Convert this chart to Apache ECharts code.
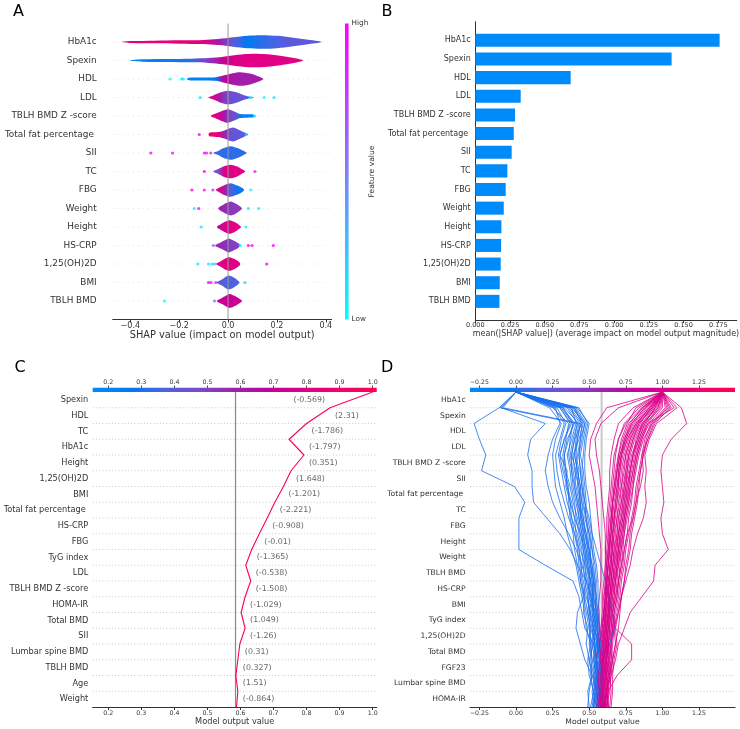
<!DOCTYPE html>
<html><head><meta charset="utf-8">
<script src="https://cdn.jsdelivr.net/npm/echarts@6/dist/echarts.min.js"></script>
<style>html,body{margin:0;padding:0;background:#fff}#c{width:740px;height:729px}</style>
</head><body><div id="c"></div>
<script>
// ---------------- Panel A : SHAP violin summary ----------------
const aFeatures = ['HbA1c','Spexin','HDL','LDL','TBLH BMD Z -score','Total fat percentage ','SII','TC','FBG','Weight','Height','HS-CRP','1,25(OH)2D','BMI','TBLH BMD'];
const aTicks = [-0.4,-0.2,0,0.2,0.4];
// knots: [SHAP value, relative density, feature-value colour position]
const vHbA1c = [[-0.434,0,0.8],[-0.40,0.14,0.8],[-0.30,0.2,0.8],[-0.20,0.24,0.8],[-0.10,0.3,0.76],[-0.04,0.45,0.55],[0.02,0.7,0.3],[0.08,0.93,0.12],[0.14,1,0.2],[0.20,0.9,0.25],[0.26,0.65,0.3],[0.32,0.35,0.3],[0.382,0,0.3]];
const vSpexin = [[-0.403,0,0.05],[-0.35,0.17,0.05],[-0.25,0.21,0.08],[-0.15,0.27,0.2],[-0.08,0.35,0.42],[-0.02,0.55,0.65],[0.04,0.85,0.75],[0.10,1,0.76],[0.16,0.92,0.76],[0.22,0.66,0.76],[0.27,0.36,0.76],[0.307,0,0.76]];
const vHDL = [[-0.169,0,0.05],[-0.16,0.17,0.05],[-0.10,0.21,0.08],[-0.05,0.27,0.12],[-0.02,0.5,0.62],[0.02,0.85,0.55],[0.05,1,0.52],[0.09,0.8,0.52],[0.12,0.45,0.52],[0.144,0,0.52]];
const vLDL = [[-0.08,0,0.75],[-0.06,0.3,0.75],[-0.03,0.75,0.5],[0,1,0.35],[0.03,0.8,0.33],[0.06,0.4,0.32],[0.085,0.14,0.25],[0.10,0.06,0.2],[0.106,0,0.2]];
const vTBLHZ = [[-0.071,0,0.78],[-0.05,0.35,0.76],[-0.02,0.8,0.58],[0,1,0.42],[0.03,0.6,0.32],[0.05,0.3,0.15],[0.08,0.24,0.06],[0.105,0.2,0.04],[0.112,0,0.04]];
const vFat = [[-0.08,0,0.85],[-0.075,0.28,0.85],[-0.04,0.36,0.78],[-0.015,0.6,0.5],[0.01,0.95,0.33],[0.025,1,0.32],[0.05,0.6,0.3],[0.07,0.25,0.25],[0.082,0,0.2]];
const vSII = [[-0.06,0,0.22],[-0.04,0.3,0.22],[-0.02,0.7,0.2],[0.01,1,0.2],[0.035,0.75,0.2],[0.06,0.35,0.2],[0.076,0,0.2]];
const vTC = [[-0.06,0,0.3],[-0.04,0.35,0.38],[-0.015,0.8,0.72],[0.01,1,0.76],[0.035,0.75,0.76],[0.055,0.35,0.76],[0.07,0,0.76]];
const vFBG = [[-0.05,0,0.78],[-0.035,0.35,0.76],[-0.01,0.8,0.5],[0.01,1,0.28],[0.035,0.7,0.16],[0.055,0.35,0.12],[0.066,0,0.12]];
const vWeight = [[-0.04,0,0.5],[-0.02,0.55,0.48],[0,0.9,0.45],[0.015,1,0.43],[0.035,0.65,0.42],[0.05,0.3,0.42],[0.057,0,0.42]];
const vHeight = [[-0.046,0,0.6],[-0.03,0.4,0.66],[-0.01,0.8,0.74],[0.005,1,0.76],[0.025,0.75,0.76],[0.045,0.3,0.76],[0.053,0,0.76]];
const vCRP = [[-0.053,0,0.5],[-0.03,0.45,0.48],[-0.005,0.9,0.44],[0.005,1,0.42],[0.03,0.6,0.4],[0.045,0.25,0.4],[0.05,0,0.4]];
const v125 = [[-0.049,0,0.72],[-0.03,0.4,0.75],[-0.01,0.85,0.76],[0.005,1,0.76],[0.025,0.75,0.76],[0.045,0.3,0.76],[0.05,0,0.76]];
const vBMI = [[-0.046,0,0.3],[-0.025,0.45,0.28],[0,1,0.26],[0.02,0.8,0.26],[0.04,0.3,0.26],[0.047,0,0.26]];
const vTBLH = [[-0.046,0,0.62],[-0.025,0.45,0.66],[0,0.95,0.66],[0.01,1,0.66],[0.03,0.7,0.66],[0.05,0.25,0.66],[0.057,0,0.66]];
const aViolins = [vHbA1c,vSpexin,vHDL,vLDL,vTBLHZ,vFat,vSII,vTC,vFBG,vWeight,vHeight,vCRP,v125,vBMI,vTBLH];
// outlier dots: [SHAP value, row (0 = bottom), feature value 0..1]
const aDots = [[-0.237,12,0],[-0.19,12,0.05],[-0.183,12,0.05],
 [-0.114,11,0.1],[0.093,11,0],[0.148,11,0],[0.188,11,0.05],[0.108,10,0],
 [-0.118,9,1],[0.075,9,0.1],
 [-0.316,8,1],[-0.227,8,1],[-0.097,8,0.95],[-0.088,8,0.9],[-0.071,8,0.85],
 [-0.097,7,1],[0.11,7,0.85],
 [-0.148,6,1],[-0.097,6,0.9],[-0.062,6,0.8],[0.093,6,0],
 [-0.138,5,0.05],[-0.12,5,0.95],[0.083,5,0.1],[0.125,5,0],
 [-0.11,4,0.1],[0.073,4,0.05],
 [-0.06,3,0.7],[0.05,3,0],[0.083,3,0.95],[0.098,3,0.95],[0.185,3,1],
 [-0.124,2,0.05],[-0.08,2,0.05],[-0.066,2,0.1],[-0.055,2,0.2],[0.158,2,0.95],
 [-0.08,1,1],[-0.07,1,0.95],[-0.05,1,0.9],[0.069,1,0.2],
 [-0.26,0,0],[-0.055,0,0.6]];

// ---------------- Panel B : mean |SHAP| ----------------
const bFeatures = aFeatures;
const bValues = [0.176,0.1414,0.0687,0.0327,0.0286,0.0277,0.0262,0.0231,0.0219,0.0205,0.0188,0.0186,0.0183,0.0176,0.0174];
const bTicks = [0,0.025,0.05,0.075,0.1,0.125,0.15,0.175];

// ---------------- Panel C : single decision path ----------------
const cFeatures = ['Spexin','HDL','TC','HbA1c','Height','1,25(OH)2D','BMI','Total fat percentage ','HS-CRP','FBG','TyG index','LDL','TBLH BMD Z -score','HOMA-IR','Total BMD','SII','Lumbar spine BMD','TBLH BMD','Age','Weight'];
const cValues = ['(-0.569)','(2.31)','(-1.786)','(-1.797)','(0.351)','(1.648)','(-1.201)','(-2.221)','(-0.908)','(-0.01)','(-1.365)','(-0.538)','(-1.508)','(-1.029)','(1.049)','(-1.26)','(0.31)','(0.327)','(1.51)','(-0.864)'];
// cumulative model output at each row boundary, bottom (0) to top (20)
const cPath = [0.588,0.592,0.586,0.592,0.598,0.614,0.602,0.614,0.631,0.616,0.634,0.657,0.681,0.704,0.730,0.753,0.792,0.747,0.800,0.871,1.0];
const cTicks = [0.2,0.3,0.4,0.5,0.6,0.7,0.8,0.9,1.0];
const baseValue = 0.585;

// ---------------- Panel D : multi decision paths ----------------
const dFeatures = ['HbA1c','Spexin','HDL','LDL','TBLH BMD Z -score','SII','Total fat percentage ','TC','FBG','Height','Weight','TBLH BMD','HS-CRP','BMI','TyG index','1,25(OH)2D','Total BMD','FGF23','Lumbar spine BMD','HOMA-IR'];
const dTicks = [-0.25,0,0.25,0.5,0.75,1.0,1.25];
const dLow = [
 [0.50,0.49,0.52,0.50,0.53,0.47,0.45,0.43,0.39,0.20,0.02,0.02,0.02,0.06,-0.01,-0.235,-0.206,-0.25,-0.286,-0.115,0],
 [0.55,0.53,0.56,0.55,0.57,0.53,0.50,0.52,0.48,0.42,0.37,0.30,0.21,0.12,0.11,0.11,0.08,0.10,0.20,-0.10,0],
 [0.53,0.55,0.52,0.50,0.48,0.49,0.46,0.47,0.44,0.45,0.41,0.36,0.30,0.25,0.22,0.20,0.22,0.25,0.30,0.27,0],
 [0.58,0.56,0.57,0.55,0.54,0.52,0.53,0.50,0.51,0.48,0.47,0.44,0.40,0.37,0.34,0.35,0.30,0.33,0.37,0.30,0],
 [0.56,0.57,0.55,0.56,0.53,0.54,0.52,0.51,0.50,0.50,0.48,0.46,0.45,0.42,0.40,0.41,0.38,0.40,0.42,0.35,0],
 [0.52,0.54,0.53,0.51,0.52,0.50,0.51,0.49,0.47,0.46,0.45,0.43,0.41,0.40,0.38,0.37,0.35,0.38,0.41,0.38,0],
 [0.59,0.58,0.60,0.58,0.57,0.56,0.55,0.54,0.53,0.52,0.50,0.49,0.48,0.46,0.45,0.44,0.43,0.44,0.45,0.40,0],
 [0.57,0.55,0.56,0.54,0.55,0.53,0.54,0.52,0.53,0.51,0.50,0.47,0.46,0.43,0.44,0.42,0.40,0.41,0.43,0.33,0],
 [0.54,0.53,0.51,0.52,0.50,0.51,0.49,0.50,0.48,0.47,0.44,0.42,0.38,0.35,0.33,0.31,0.29,0.31,0.34,0.28,0],
 [0.60,0.59,0.58,0.57,0.58,0.55,0.56,0.55,0.54,0.53,0.52,0.51,0.49,0.47,0.46,0.45,0.46,0.47,0.49,0.43,0],
 [0.55,0.56,0.54,0.55,0.56,0.54,0.52,0.53,0.51,0.49,0.48,0.45,0.43,0.41,0.39,0.38,0.36,0.37,0.39,0.31,0],
 [0.53,0.52,0.54,0.52,0.51,0.50,0.48,0.46,0.44,0.42,0.40,0.39,0.37,0.36,0.36,0.33,0.32,0.34,0.36,0.25,0],
 [0.58,0.60,0.59,0.57,0.56,0.57,0.55,0.53,0.52,0.50,0.49,0.47,0.44,0.44,0.42,0.43,0.41,0.42,0.44,0.36,0],
 [0.56,0.54,0.55,0.53,0.54,0.52,0.50,0.49,0.50,0.48,0.46,0.44,0.42,0.39,0.37,0.34,0.33,0.35,0.40,0.32,0],
 [0.51,0.53,0.50,0.49,0.51,0.48,0.47,0.45,0.43,0.41,0.38,0.35,0.33,0.30,0.27,0.26,0.25,0.27,0.31,0.23,0],
 [0.57,0.58,0.56,0.58,0.55,0.56,0.54,0.55,0.53,0.51,0.51,0.50,0.48,0.45,0.43,0.40,0.39,0.43,0.46,0.39,0],
 [0.59,0.57,0.58,0.56,0.58,0.57,0.56,0.54,0.55,0.54,0.52,0.50,0.47,0.48,0.47,0.46,0.44,0.46,0.48,0.41,0],
 [0.54,0.55,0.53,0.54,0.52,0.53,0.51,0.48,0.46,0.44,0.43,0.41,0.40,0.38,0.35,0.32,0.30,0.33,0.38,0.30,0],
 [0.56,0.55,0.57,0.55,0.53,0.55,0.53,0.52,0.51,0.49,0.47,0.46,0.44,0.43,0.41,0.39,0.37,0.39,0.42,-0.11,0],
 [0.58,0.56,0.55,0.57,0.56,0.54,0.55,0.53,0.52,0.51,0.49,0.48,0.46,0.45,0.44,0.42,0.40,0.42,0.44,-0.09,0],
 [0.55,0.57,0.56,0.54,0.55,0.56,0.54,0.51,0.49,0.47,0.46,0.45,0.43,0.42,0.40,0.38,0.38,0.40,0.45,0.37,0],
 [0.60,0.58,0.59,0.60,0.58,0.57,0.57,0.56,0.56,0.55,0.53,0.52,0.51,0.50,0.48,0.47,0.47,0.48,0.50,0.42,0],
 [0.53,0.54,0.55,0.53,0.54,0.51,0.49,0.47,0.45,0.43,0.42,0.40,0.36,0.33,0.30,0.28,0.27,0.30,0.33,0.26,0],
 [0.57,0.56,0.54,0.55,0.57,0.55,0.53,0.52,0.54,0.52,0.50,0.48,0.45,0.44,0.43,0.41,0.42,0.44,0.47,0.38,0],
 [0.55,0.58,0.57,0.59,0.64,0.67,0.66,0.63,0.61,0.58,0.55,0.52,0.50,0.47,0.45,0.44,0.43,0.45,0.47,0.40,0],
 [0.49,0.50,0.52,0.47,0.44,0.41,0.42,0.46,0.48,0.45,0.43,0.40,0.38,0.37,0.35,0.34,0.33,0.36,0.39,0.32,0]
];
const dHigh = [
 [0.60,0.62,0.65,0.68,0.70,0.74,0.78,0.86,0.94,0.95,1.04,1.00,0.99,1.01,1.00,0.99,1.00,1.06,1.166,1.13,1.0],
 [0.60,0.63,0.69,0.79,0.79,0.68,0.66,0.68,0.70,0.72,0.74,0.76,0.80,0.82,0.85,0.87,0.86,0.90,0.95,1.05,1.0],
 [0.63,0.62,0.64,0.66,0.65,0.67,0.70,0.72,0.75,0.78,0.80,0.83,0.87,0.89,0.88,0.89,0.88,0.91,0.96,1.10,1.0],
 [0.58,0.60,0.59,0.61,0.62,0.61,0.63,0.64,0.66,0.67,0.69,0.70,0.72,0.74,0.76,0.78,0.80,0.84,0.88,0.95,1.0],
 [0.60,0.59,0.61,0.60,0.62,0.63,0.62,0.64,0.65,0.66,0.67,0.69,0.70,0.72,0.73,0.75,0.77,0.80,0.85,0.92,1.0],
 [0.57,0.58,0.60,0.59,0.58,0.60,0.61,0.60,0.62,0.63,0.64,0.65,0.66,0.67,0.69,0.70,0.72,0.74,0.79,0.88,1.0],
 [0.62,0.61,0.63,0.62,0.64,0.65,0.66,0.68,0.69,0.70,0.72,0.73,0.75,0.77,0.79,0.81,0.83,0.86,0.90,0.98,1.0],
 [0.59,0.60,0.58,0.60,0.61,0.60,0.62,0.62,0.63,0.65,0.65,0.66,0.67,0.69,0.70,0.71,0.73,0.76,0.81,0.90,1.0],
 [0.56,0.57,0.58,0.57,0.59,0.58,0.60,0.61,0.61,0.62,0.63,0.63,0.64,0.65,0.66,0.67,0.68,0.70,0.74,0.84,1.0],
 [0.61,0.62,0.61,0.63,0.63,0.64,0.65,0.66,0.68,0.69,0.71,0.72,0.74,0.76,0.78,0.80,0.82,0.85,0.89,0.97,1.0],
 [0.58,0.59,0.60,0.62,0.61,0.62,0.63,0.63,0.64,0.64,0.66,0.67,0.69,0.70,0.72,0.74,0.75,0.78,0.83,0.93,1.0],
 [0.64,0.65,0.64,0.66,0.68,0.67,0.69,0.71,0.72,0.74,0.75,0.77,0.79,0.81,0.82,0.84,0.86,0.88,0.92,1.02,1.0],
 [0.55,0.56,0.57,0.58,0.57,0.58,0.59,0.59,0.60,0.61,0.61,0.62,0.62,0.63,0.64,0.64,0.65,0.67,0.70,0.80,1.0],
 [0.60,0.61,0.62,0.61,0.63,0.62,0.64,0.65,0.66,0.67,0.68,0.70,0.71,0.73,0.75,0.76,0.78,0.81,0.86,0.94,1.0],
 [0.57,0.58,0.57,0.59,0.60,0.61,0.61,0.62,0.62,0.63,0.64,0.64,0.65,0.66,0.67,0.68,0.70,0.73,0.77,0.87,1.0],
 [0.56,0.55,0.56,0.55,0.56,0.57,0.56,0.57,0.58,0.58,0.58,0.57,0.56,0.55,0.54,0.52,0.50,0.51,0.55,0.62,1.0],
 [0.59,0.58,0.59,0.58,0.59,0.60,0.60,0.61,0.62,0.62,0.61,0.61,0.60,0.59,0.58,0.57,0.55,0.54,0.58,0.70,1.0],
 [0.62,0.63,0.62,0.64,0.65,0.66,0.68,0.70,0.71,0.73,0.74,0.76,0.77,0.79,0.80,0.81,0.83,0.86,0.91,1.00,1.0],
 [0.58,0.57,0.59,0.60,0.60,0.61,0.62,0.63,0.63,0.64,0.65,0.66,0.68,0.69,0.71,0.72,0.74,0.77,0.82,0.91,1.0],
 [0.61,0.60,0.62,0.63,0.62,0.63,0.64,0.66,0.67,0.68,0.70,0.71,0.73,0.74,0.75,0.77,0.79,0.83,0.87,0.96,1.0],
 [0.57,0.59,0.58,0.60,0.59,0.61,0.60,0.62,0.63,0.62,0.63,0.65,0.66,0.66,0.68,0.69,0.71,0.75,0.80,0.89,1.0],
 [0.63,0.62,0.63,0.65,0.64,0.66,0.67,0.69,0.70,0.72,0.73,0.74,0.76,0.78,0.80,0.82,0.84,0.87,0.93,1.04,1.0],
 [0.60,0.61,0.60,0.62,0.63,0.64,0.63,0.64,0.65,0.66,0.68,0.69,0.70,0.72,0.74,0.75,0.76,0.79,0.84,0.93,1.0],
 [0.59,0.58,0.60,0.59,0.61,0.62,0.63,0.65,0.67,0.69,0.70,0.72,0.74,0.76,0.77,0.79,0.81,0.84,0.88,0.99,1.0],
 [0.61,0.62,0.64,0.63,0.65,0.66,0.65,0.67,0.68,0.70,0.71,0.73,0.74,0.75,0.77,0.78,0.80,0.82,0.87,0.95,1.0],
 [0.56,0.57,0.56,0.58,0.57,0.59,0.60,0.60,0.61,0.61,0.62,0.63,0.63,0.64,0.65,0.66,0.67,0.70,0.75,0.86,1.0],
 [0.62,0.64,0.65,0.66,0.68,0.70,0.71,0.72,0.74,0.76,0.78,0.79,0.81,0.83,0.84,0.85,0.87,0.90,0.94,1.06,1.0],
 [0.58,0.59,0.61,0.60,0.62,0.63,0.64,0.63,0.64,0.65,0.66,0.67,0.67,0.68,0.69,0.71,0.72,0.75,0.79,0.88,1.0],
 [0.60,0.59,0.58,0.60,0.61,0.62,0.61,0.62,0.64,0.65,0.66,0.66,0.67,0.68,0.70,0.70,0.72,0.76,0.82,0.92,1.0],
 [0.65,0.66,0.66,0.67,0.69,0.68,0.70,0.72,0.74,0.75,0.77,0.78,0.80,0.82,0.83,0.85,0.87,0.89,0.93,1.03,1.0],
 [0.59,0.60,0.61,0.62,0.62,0.63,0.64,0.64,0.65,0.66,0.67,0.68,0.69,0.71,0.72,0.73,0.75,0.78,0.83,0.91,1.0],
 [0.61,0.60,0.62,0.61,0.63,0.64,0.65,0.65,0.66,0.68,0.69,0.70,0.72,0.73,0.74,0.76,0.77,0.80,0.84,0.94,1.0],
 [0.57,0.58,0.59,0.59,0.60,0.60,0.61,0.62,0.62,0.63,0.63,0.64,0.65,0.66,0.67,0.69,0.71,0.74,0.78,0.86,1.0],
 [0.63,0.63,0.64,0.65,0.66,0.67,0.67,0.69,0.70,0.71,0.72,0.74,0.75,0.77,0.78,0.80,0.82,0.85,0.90,1.08,1.0],
 [0.60,0.62,0.63,0.64,0.63,0.65,0.66,0.67,0.68,0.69,0.70,0.71,0.73,0.75,0.76,0.78,0.80,0.83,0.86,0.97,1.0],
 [0.58,0.57,0.58,0.59,0.60,0.59,0.60,0.61,0.62,0.63,0.64,0.65,0.65,0.66,0.68,0.69,0.70,0.72,0.76,0.82,1.0]
];

// ---------------- helpers ----------------
const FONT = 'DejaVu Sans';
const redBlueStops = ['#008bfb','#0079f3','#4963e3','#7c49cc','#9b23ad','#c2009c','#e00086','#f5006d','#ff0052'];
function hex(h){return [parseInt(h.slice(1,3),16),parseInt(h.slice(3,5),16),parseInt(h.slice(5,7),16)];}
const rbRGB = redBlueStops.map(hex);
function redBlue(t){
  t=Math.max(0,Math.min(1,t)); const n=rbRGB.length-1;
  const i=Math.min(n-1,Math.floor(t*n)); const f=t*n-i;
  const a=rbRGB[i], b=rbRGB[i+1];
  return 'rgb('+a.map((v,j)=>Math.round(v+(b[j]-v)*f)).join(',')+')';
}
function cool(t){return 'rgb('+Math.round(255*t)+','+Math.round(255*(1-t))+',255)';}
function fmt(v,d){return v.toFixed(d).replace('-','\u2212');}
const mctx=document.createElement('canvas').getContext('2d');
function textW(s,size){mctx.font=size+'px "'+FONT+'"';return mctx.measureText(s).width;}

// layout (pixels)
const G = {
  a:{left:112.7,top:23.5,width:219,height:296},
  b:{left:475.3,top:21.7,width:261.4,height:298.3},
  c:{left:92.7,top:392,width:284,height:315},
  d:{left:470,top:392,width:265,height:315}
};
const aX=[-0.472,0.424], bX=[0,0.1883], cX=[0.1528,1.0122], dX=[-0.314,1.496];

const axisLineStyle={show:true,onZero:false,lineStyle:{color:'#333',width:1}};
function valX(grid,range,ticks,dec,fs,name,nameFs,nameGap,margin){
  return {type:'value',gridIndex:grid,min:range[0],max:range[1],
    axisLine:axisLineStyle,
    axisTick:{show:true,length:3,customValues:ticks,lineStyle:{color:'#333'}},
    axisLabel:{customValues:ticks,formatter:v=>fmt(v,dec),fontSize:fs,color:'#333',margin:margin,fontFamily:FONT},
    splitLine:{show:false},
    name:name,nameLocation:'middle',nameGap:nameGap,
    nameTextStyle:{fontSize:nameFs,color:'#333',fontFamily:FONT}};
}
function topX(grid,range,ticks,dec,fs){
  return {type:'value',gridIndex:grid,min:range[0],max:range[1],position:'top',offset:4.3,
    axisLine:{show:false,onZero:false},
    axisTick:{show:true,length:2,customValues:ticks,lineStyle:{color:'#333'}},
    axisLabel:{customValues:ticks,formatter:v=>fmt(v,dec),fontSize:fs,color:'#333',margin:2,fontFamily:FONT},
    splitLine:{show:false}};
}
function rowY(grid,min,max,vals,fmtFn,fs,margin,showLine){
  return {type:'value',gridIndex:grid,min:min,max:max,
    axisLine:showLine?axisLineStyle:{show:false,onZero:false},axisTick:{show:false},splitLine:{show:false},
    axisLabel:{customValues:vals,formatter:fmtFn,fontSize:fs,color:'#333',margin:margin,fontFamily:FONT}};
}

const nA=aFeatures.length;
const aRows=aFeatures.map((f,i)=>nA-1-i);
const cHalf=cFeatures.map((f,i)=>19-i+0.5);

const series=[];
// A: faint row lines
series.push({type:'custom',xAxisIndex:0,yAxisIndex:0,silent:true,z:1,
  data:aRows.map(r=>[0,r]),
  renderItem:(p,api)=>{const cs=p.coordSys;const y=api.coord([0,api.value(1)])[1];
    return {type:'line',shape:{x1:cs.x,y1:y,x2:cs.x+cs.width,y2:y},style:{stroke:'#d8d8d8',lineWidth:0.7,lineDash:[1,4]}};}});
// A: violins
series.push({type:'custom',xAxisIndex:0,yAxisIndex:0,silent:true,z:2,
  data:aFeatures.map((f,i)=>[0,nA-1-i,i]),
  renderItem:(p,api)=>{
    const idx=api.value(2), row=api.value(1), knots=aViolins[idx];
    const rowPx=api.size([0,1])[1], maxHalf=0.37*rowPx;
    const top=[],bot=[];
    knots.forEach(k=>{const c=api.coord([k[0],row]);top.push([c[0],c[1]-k[1]*maxHalf]);bot.push([c[0],c[1]+k[1]*maxHalf]);});
    const pts=top.concat(bot.slice(1,-1).reverse());
    const x0=top[0][0], x1=top[top.length-1][0];
    const stops=knots.map((k,j)=>({offset:(top[j][0]-x0)/(x1-x0),color:redBlue(k[2])}));
    return {type:'polygon',shape:{points:pts,smooth:0.3},
      style:{fill:new echarts.graphic.LinearGradient(x0,0,x1,0,stops,true)}};
  }});
// A: dots
series.push({type:'scatter',xAxisIndex:0,yAxisIndex:0,silent:true,z:3,symbolSize:3.2,
  data:aDots,itemStyle:{color:p=>cool(p.value[2])}});
// A: zero line
series.push({type:'custom',xAxisIndex:0,yAxisIndex:0,silent:true,z:4,data:[[0,0]],
  renderItem:(p,api)=>{const cs=p.coordSys;const x=api.coord([0,0])[0];
    return {type:'line',shape:{x1:x,y1:cs.y,x2:x,y2:cs.y+cs.height},style:{stroke:'#999',lineWidth:1}};}});

// B: bars
series.push({type:'custom',xAxisIndex:1,yAxisIndex:1,silent:true,z:2,
  data:bValues.map((v,i)=>[v,nA-1-i]),
  renderItem:(p,api)=>{const row=api.value(1);const a=api.coord([0,row]),b=api.coord([api.value(0),row]);
    const h=api.size([0,0.7])[1];
    return {type:'rect',shape:{x:a[0],y:a[1]-h/2,width:b[0]-a[0],height:h},style:{fill:'#008bfb'}};}});

// C & D grid lines + base lines
function rowLines(xi,yi){
  return {type:'custom',xAxisIndex:xi,yAxisIndex:yi,silent:true,z:1,
    data:cFeatures.slice(1).map((f,i)=>[0,i+1]),
    renderItem:(p,api)=>{const cs=p.coordSys;const y=api.coord([0,api.value(1)])[1];
      return {type:'line',shape:{x1:cs.x,y1:y,x2:cs.x+cs.width,y2:y},style:{stroke:'#bdbdbd',lineWidth:0.8,lineDash:[1,2.2]}};}};
}
function baseLine(xi,yi,color,w){
  return {type:'custom',xAxisIndex:xi,yAxisIndex:yi,silent:true,z:1,data:[[baseValue,0]],
    renderItem:(p,api)=>{const cs=p.coordSys;const x=api.coord([api.value(0),0])[0];
      return {type:'line',shape:{x1:x,y1:cs.y,x2:x,y2:cs.y+cs.height},style:{stroke:color,lineWidth:w}};}};
}
series.push(rowLines(2,2)); series.push(baseLine(2,2,'#888',1.2));
series.push(rowLines(4,3)); series.push(baseLine(4,3,'#c8c8c8',2));

// C: decision path
const cColor=redBlue((cPath[cPath.length-1]-cX[0])/(cX[1]-cX[0]));
series.push({type:'line',xAxisIndex:2,yAxisIndex:2,silent:true,z:3,showSymbol:false,symbol:'none',
  data:cPath.map((v,k)=>[v,k]),lineStyle:{color:cColor,width:1.1}});
// C: feature value labels
series.push({type:'custom',xAxisIndex:2,yAxisIndex:2,silent:true,z:4,
  data:cValues.map((s,i)=>[i,0]),
  renderItem:(p,api)=>{
    const i=api.value(0), kLo=19-i, kHi=20-i;
    const a=api.coord([cPath[kLo],kLo+0.5]), b=api.coord([cPath[kHi],kLo+0.5]);
    const right=p.coordSys.x+p.coordSys.width, txt=cValues[i];
    let x=Math.max(a[0],b[0])+5, al='left';
    if(x+textW(txt,7.9)>right){x=Math.min(a[0],b[0])-5;al='right';}
    return {type:'text',x:x,y:a[1],style:{text:txt,fill:'#666',font:'7.9px "'+FONT+'"',align:al,textAlign:al,verticalAlign:'middle',textVerticalAlign:'middle'}};
  }});

// D: decision paths (interleaved)
const nMax=Math.max(dLow.length,dHigh.length);
function dSeries(arr){
  const fin=arr[arr.length-1];
  return {type:'line',xAxisIndex:4,yAxisIndex:3,silent:true,z:3,showSymbol:false,symbol:'none',
    data:arr.map((v,k)=>[v,k]),lineStyle:{color:redBlue((fin-dX[0])/(dX[1]-dX[0])),width:0.9,opacity:0.9}};
}
for(let i=0;i<nMax;i++){
  if(i<dHigh.length) series.push(dSeries(dHigh[i]));
  if(i<dLow.length) series.push(dSeries(dLow[i]));
}

function hGrad(){return new echarts.graphic.LinearGradient(0,0,1,0,redBlueStops.map((c,i)=>({offset:i/(redBlueStops.length-1),color:c})));}
function letter(t,x,y){return {type:'text',x:x,y:y,style:{text:t,fill:'#000',font:'16px "'+FONT+'"',verticalAlign:'middle',textVerticalAlign:'middle'}};}
const gridBase={outerBoundsMode:'none',containLabel:false};

const option={
  animation:false,
  textStyle:{fontFamily:FONT},
  grid:[Object.assign({},gridBase,G.a),Object.assign({},gridBase,G.b),Object.assign({},gridBase,G.c),Object.assign({},gridBase,G.d)],
  xAxis:[
    valX(0,aX,aTicks,1,8,'SHAP value (impact on model output)',9.8,10,2.5),
    valX(1,bX,bTicks,3,6.5,'mean(|SHAP value|) (average impact on model output magnitude)',8,10,1.5),
    valX(2,cX,cTicks,1,6.3,'Model output value',8.2,11,3),
    topX(2,cX,cTicks,1,6.3),
    valX(3,dX,dTicks,2,6.2,'Model output value',7.7,11,3),
    topX(3,dX,dTicks,2,6.2)
  ],
  yAxis:[
    rowY(0,-1,15,aRows.slice().reverse(),v=>aFeatures[nA-1-Math.round(v)],8.9,16,false),
    rowY(1,-1,15,aRows.slice().reverse(),v=>bFeatures[nA-1-Math.round(v)],8,4.6,true),
    rowY(2,0,20,cHalf.slice().reverse(),v=>cFeatures[19-Math.floor(v)],8.2,4.4,false),
    rowY(3,0,20,cHalf.slice().reverse(),v=>dFeatures[19-Math.floor(v)],7.6,4.3,false)
  ],
  series:series,
  graphic:[
    {type:'rect',shape:{x:345,y:G.a.top,width:3.6,height:G.a.height},
      style:{fill:new echarts.graphic.LinearGradient(0,0,0,1,[{offset:0,color:'#ff00ff'},{offset:1,color:'#00ffff'}])}},
    {type:'text',x:351.5,y:G.a.top,style:{text:'High',fill:'#333',font:'7.3px "'+FONT+'"',verticalAlign:'middle',textVerticalAlign:'middle'}},
    {type:'text',x:351.5,y:G.a.top+G.a.height,style:{text:'Low',fill:'#333',font:'7.3px "'+FONT+'"',verticalAlign:'middle',textVerticalAlign:'middle'}},
    {type:'text',x:372,y:G.a.top+G.a.height/2,rotation:Math.PI/2,
      style:{text:'Feature value',fill:'#333',font:'7.6px "'+FONT+'"',align:'center',textAlign:'center',verticalAlign:'middle',textVerticalAlign:'middle'}},
    {type:'rect',shape:{x:G.c.left,y:G.c.top-4.3,width:G.c.width,height:4.3},style:{fill:hGrad()}},
    {type:'rect',shape:{x:G.d.left,y:G.d.top-4.3,width:G.d.width,height:4.3},style:{fill:hGrad()}},
    letter('A',13,11.5), letter('B',381.5,11.5), letter('C',14.5,368), letter('D',381,368)
  ]
};
const chart=echarts.init(document.getElementById('c'),null,{renderer:'canvas'});
chart.setOption(option);
</script></body></html>
